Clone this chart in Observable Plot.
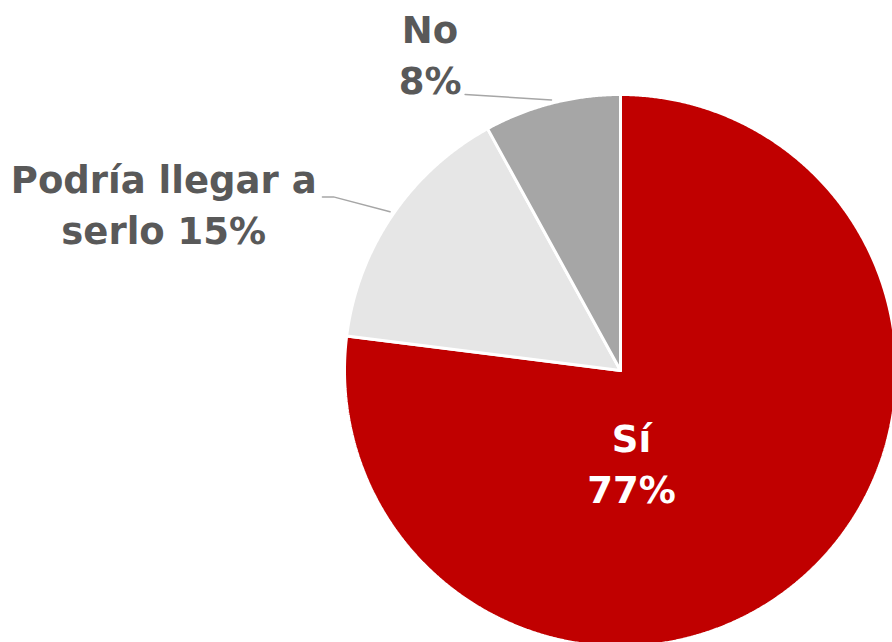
<!DOCTYPE html>
<html>
<head>
<meta charset="utf-8">
<script src="https://cdn.jsdelivr.net/npm/d3@7"></script>
<script src="https://cdn.jsdelivr.net/npm/@observablehq/plot@0.6"></script>
<style>
  html, body { margin: 0; padding: 0; background: #fff; }
  #chart { width: 892px; height: 642px; overflow: hidden; }
</style>
</head>
<body>
<div id="chart"></div>
<script>
// ---- data ----
const categories = ["Sí", "Podría llegar a serlo", "No"];
const values = [77, 15, 8];
const labels = ["Sí\n77%", "Podría llegar a\nserlo 15%", "No\n8%"];
const colors = ["#C00000", "#E6E6E6", "#A6A6A6"];

// ---- layout (unit-circle coordinates, radius = 1) ----
const W = 892, H = 642, R = 276, CX = 620, CY = 370;
const labelPos = [[0.04, -0.327], [-1.655, 0.609], [-0.69, 1.155]];
const labelFill = ["#FFFFFF", "#595959", "#595959"];
const leaders = [null, [[-1.08, 0.629], [-1.04, 0.629], [-0.835, 0.575]], [[-0.563, 1.0], [-0.25, 0.98]]];

const pie = d3.pie().sort(null).value(d => d)(values);
const slices = [];
pie.forEach((p, i) => {
  slices.push({cat: categories[i], x: 0, y: 0});
  const n = Math.max(2, Math.ceil((p.endAngle - p.startAngle) / 0.005));
  for (let k = 0; k <= n; k++) {
    const a = p.startAngle + (p.endAngle - p.startAngle) * k / n;
    slices.push({cat: categories[i], x: Math.sin(a), y: Math.cos(a)});
  }
  slices.push({cat: categories[i], x: 0, y: 0});
});

const labelData = categories.map((c, i) => ({cat: c, text: labels[i], x: labelPos[i][0], y: labelPos[i][1], fill: labelFill[i]}));
const leaderData = [];
leaders.forEach((l, i) => { if (l) l.forEach(([x, y]) => leaderData.push({cat: categories[i], x, y})); });

const marks = categories.map((c, i) =>
  Plot.line(slices.filter(d => d.cat === c), {x: "x", y: "y", fill: colors[i], stroke: "#FFFFFF", strokeWidth: 3, strokeLinejoin: "miter", curve: "linear"})
);

const chart = Plot.plot({
  width: W, height: H,
  margin: 0,
  x: {domain: [-CX / R, (W - CX) / R], range: [0, W], axis: null},
  y: {domain: [(CY - H) / R, CY / R], range: [H, 0], axis: null},
  style: {background: "#fff"},
  marks: [
    ...marks,
    Plot.line(leaderData, {x: "x", y: "y", z: "cat", stroke: "#A6A6A6", strokeWidth: 1.5}),
    Plot.text(labelData, {x: "x", y: "y", text: "text", fill: "fill", fontSize: 37, fontWeight: 700, fontFamily: "'DejaVu Sans', sans-serif", lineHeight: 1.38, textAnchor: "middle"})
  ]
});
document.getElementById("chart").appendChild(chart);
</script>
</body>
</html>
